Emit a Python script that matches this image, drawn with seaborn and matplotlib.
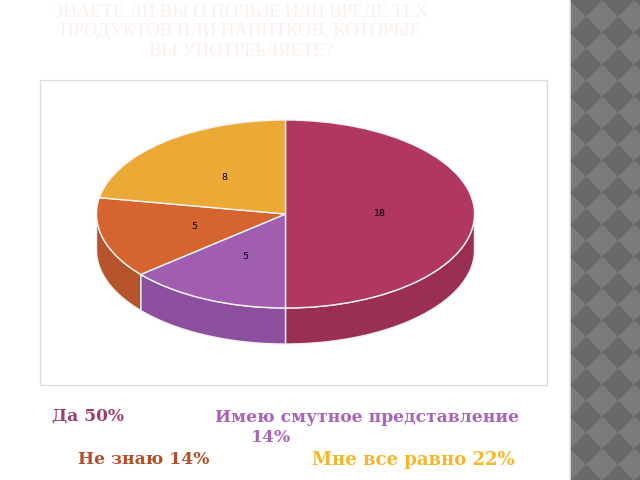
import numpy as np
import matplotlib
matplotlib.use("Agg")
import matplotlib.pyplot as plt
import seaborn as sns
from matplotlib.patches import Rectangle

# ---- data ----
categories = ["Да", "Имею смутное представление", "Не знаю", "Мне все равно"]
counts = [18, 5, 5, 8]
percents = [50, 14, 14, 22]
title = "ЗНАЕТЕ ЛИ ВЫ О ПОЛЬЗЕ ИЛИ ВРЕДЕ ТЕХ\nПРОДУКТОВ ИЛИ НАПИТКОВ, КОТОРЫЕ\nВЫ УПОТРЕБЛЯЕТЕ?"

top_colors = ["#B0375F", "#A15EB1", "#D5642F", "#EBAA35"]
side_colors = ["#9A2E55", "#8B4F9E", "#B5542A", "#D09428"]
text_colors = ["#9E3F6B", "#A864B8", "#B0502A", "#F5B62A"]

sns.set_style("white")

W, H = 640, 480
fig = plt.figure(figsize=(6.4, 4.8), dpi=100)
fig.patch.set_facecolor("white")

# ---- decorative strip on the right ----
ax_bg = fig.add_axes([570 / W, 0, 70 / W, 1])
yy, xx = np.mgrid[0:H, 0:70]
s = 32
pattern = (np.floor((xx + yy) / s) + np.floor((xx - yy) / s)) % 2
ax_bg.imshow(pattern, cmap=matplotlib.colors.ListedColormap(["#696969", "#7B7B7B"]),
             aspect="auto", interpolation="nearest")
ax_bg.axis("off")
fig.add_artist(plt.Line2D([569.5 / W, 569.5 / W], [0, 1], color="#E8E8E8", lw=1.2))

# ---- chart frame ----
fig.add_artist(Rectangle((40 / W, 1 - 385 / H), 507 / W, 305 / H, transform=fig.transFigure,
                         fill=False, edgecolor="#DCDCDC", lw=0.9))

# ---- pie (squashed into an ellipse) ----
cx, cy, rx, ry, depth = 285.5, 214, 189, 94, 36
ax = fig.add_axes([0, 0, 1, 1])
wedges, texts, autotexts = ax.pie(
    counts, colors=top_colors, startangle=90, counterclock=False,
    wedgeprops=dict(edgecolor="#F4F4F4", linewidth=1.0, zorder=3),
    autopct=lambda p: f"{p * sum(counts) / 100:.0f}", pctdistance=0.5,
    textprops=dict(fontsize=6.8, color="black", family="DejaVu Sans"))
for t in autotexts:
    t.set_zorder(5)
ax.set_aspect("auto")
ax.set_xlim(-cx / rx, (W - cx) / rx)
ax.set_ylim(-(H - cy) / ry, cy / ry)
ax.axis("off")

h = depth / ry
for w, col in zip(wedges, side_colors):
    for k in (-1, 0, 1):
        a = max(w.theta1, -180 + 360 * k)
        b = min(w.theta2, 360 * k)
        if b <= a:
            continue
        t = np.radians(np.linspace(a, b, 120))
        xs = np.concatenate([np.cos(t), np.cos(t[::-1])])
        ys = np.concatenate([np.sin(t), np.sin(t[::-1]) - h])
        ax.fill(xs, ys, color=col, edgecolor="#F0F0F0", lw=1.0, zorder=2)

# ---- title and legend text ----
fig.text(241 / W, 1 - 32 / H, title, ha="center", va="center", fontsize=13.4,
         family="Liberation Serif", color="#FBF1EC", linespacing=1.2)

label_pos = [(52, 416), (215, 418), (78, 460), (312, 460)]
for i, (x, y) in enumerate(label_pos):
    txt = f"{categories[i]} {percents[i]}%"
    size = 13 if i == 3 else 12.3
    if i == 1:
        txt = categories[i]
        fig.text(251 / W, 1 - 438 / H, f"{percents[i]}%", ha="left", va="center",
                 fontsize=12.3, fontweight="bold", family="DejaVu Serif", color=text_colors[i])
    fig.text(x / W, 1 - y / H, txt, ha="left", va="center", fontsize=size,
             fontweight="bold", family="DejaVu Serif", color=text_colors[i])

fig.savefig("out.png", dpi=100)
